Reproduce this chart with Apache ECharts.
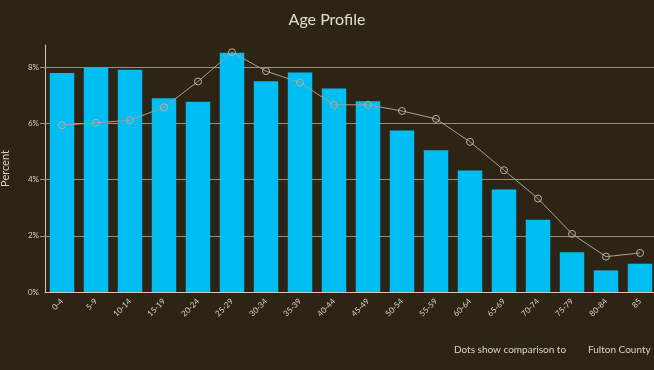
<!DOCTYPE html>
<html><head><meta charset="utf-8">
<script src="https://cdn.jsdelivr.net/npm/echarts@6/dist/echarts.min.js"></script>
<style>html,body{margin:0;padding:0;background:#2d2416;}#c{width:654px;height:370px;}</style>
</head><body><div id="c"></div>
<script>
const categories = ['0-4','5-9','10-14','15-19','20-24','25-29','30-34','35-39','40-44','45-49','50-54','55-59','60-64','65-69','70-74','75-79','80-84','85'];
const areaValues = [7.8,8.0,7.92,6.9,6.78,8.52,7.51,7.82,7.25,6.8,5.75,5.05,4.33,3.65,2.57,1.42,0.77,1.01];
const countyValues = [5.94,6.03,6.12,6.58,7.5,8.54,7.87,7.46,6.67,6.67,6.45,6.17,5.35,4.34,3.33,2.07,1.26,1.39];
const yTicks = [0,2,4,6,8];

const chart = echarts.init(document.getElementById('c'));
chart.setOption({
  backgroundColor: '#2d2416',
  textStyle: {fontFamily: 'Lato'},
  title: {text: 'Age Profile', left: 'center', top: 7, textStyle: {color: '#e0dcd4', fontSize: 16, fontWeight: 'normal', fontFamily: 'Lato'}},
  grid: {left: 45, right: -3, top: 45, bottom: 78, containLabel: false, outerBoundsMode: 'none'},
  graphic: [
    {type: 'text', left: 454, top: 345, style: {text: 'Dots show comparison to', fill: '#d8d4cc', fontSize: 10, fontFamily: 'Lato'}},
    {type: 'text', left: 588, top: 345, style: {text: 'Fulton County', fill: '#d8d4cc', fontSize: 10, fontFamily: 'Lato'}}
  ],
  xAxis: {
    type: 'category', data: categories,
    axisLine: {lineStyle: {color: '#cfc8b8', width: 1}},
    axisTick: {alignWithLabel: true, length: 4, lineStyle: {color: '#cfc8b8'}},
    axisLabel: {color: '#d8d4cc', fontSize: 8, rotate: 45, interval: 0, margin: 8}
  },
  yAxis: {
    type: 'value', min: 0, max: 8.8, interval: 2,
    name: 'Percent', nameLocation: 'middle', nameGap: 34,
    nameTextStyle: {color: '#d8d4cc', fontSize: 11},
    axisLine: {show: true, lineStyle: {color: '#cfc8b8'}},
    axisTick: {show: false},
    axisLabel: {color: '#d8d4cc', fontSize: 8, margin: 6,
      formatter: v => yTicks.indexOf(v) >= 0 ? v + '%' : ''},
    splitLine: {show: false}
  },
  series: [
    {type: 'bar', data: areaValues, barCategoryGap: '28%', itemStyle: {color: '#00bdf2'}, z: 2,
      markLine: {silent: true, symbol: 'none', label: {show: false}, z: 1,
        lineStyle: {color: '#9a927e', width: 1, type: 'solid'},
        data: yTicks.filter(v => v > 0).map(v => ({yAxis: v, x: 40}))
          .map((d, i) => [{yAxis: yTicks[i + 1], x: 40}, {yAxis: yTicks[i + 1], x: 654}])}},
    {type: 'line', data: countyValues, symbol: 'circle', symbolSize: 7,
      lineStyle: {color: '#a8a090', width: 1},
      itemStyle: {color: 'rgba(0,0,0,0)', borderColor: '#b8b0a0', borderWidth: 1}, z: 3}
  ]
});
</script></body></html>
